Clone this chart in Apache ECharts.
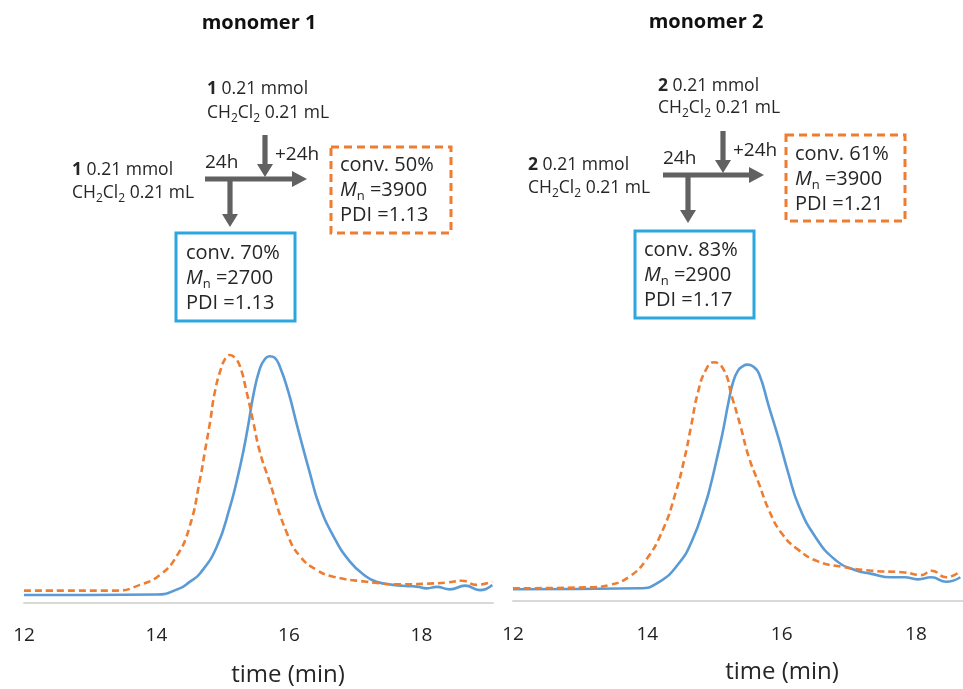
<!DOCTYPE html>
<html>
<head>
<meta charset="utf-8">
<script src="https://cdn.jsdelivr.net/npm/echarts@6/dist/echarts.min.js"></script>
<style>
html,body{margin:0;padding:0;background:#fff;}
#chart{width:963px;height:689px;}
</style>
</head>
<body>
<div id="chart"></div>
<script>
// ---------- data ----------
// monomer 1 panel
const m1BlueTime = [12.0, 13.0, 14.0, 14.35, 14.5, 14.66, 14.91, 15.11, 15.21, 15.31, 15.39, 15.46, 15.56, 15.64, 15.71, 15.78, 15.86, 15.99, 16.12, 16.24, 16.32, 16.45, 16.67, 16.92, 17.17, 17.32, 17.57, 17.8, 17.93, 18.08, 18.23, 18.43, 18.66, 18.88, 19.07];
const m1BlueValue = [0.032, 0.032, 0.034, 0.059, 0.085, 0.12, 0.227, 0.388, 0.49, 0.61, 0.725, 0.835, 0.945, 0.985, 0.995, 0.99, 0.955, 0.852, 0.718, 0.597, 0.52, 0.4, 0.27, 0.167, 0.106, 0.086, 0.073, 0.068, 0.066, 0.059, 0.065, 0.055, 0.07, 0.052, 0.073];
const m1OrangeTime = [12.0, 13.4, 13.75, 14.05, 14.3, 14.5, 14.66, 14.73, 14.81, 14.88, 14.98, 15.05, 15.11, 15.18, 15.26, 15.36, 15.46, 15.56, 15.69, 15.97, 16.17, 16.42, 16.67, 17.17, 17.68, 18.18, 18.4, 18.61, 18.83, 19.07];
const m1OrangeValue = [0.05, 0.05, 0.073, 0.113, 0.187, 0.308, 0.503, 0.61, 0.731, 0.85, 0.95, 0.99, 1.0, 0.99, 0.955, 0.852, 0.731, 0.61, 0.503, 0.281, 0.187, 0.133, 0.106, 0.086, 0.075, 0.079, 0.083, 0.09, 0.073, 0.086];
// monomer 2 panel
const m2BlueTime = [12.0, 13.88, 14.18, 14.47, 14.67, 14.87, 14.94, 15.02, 15.12, 15.21, 15.28, 15.35, 15.42, 15.49, 15.57, 15.66, 15.81, 15.96, 16.1, 16.25, 16.5, 16.8, 17.09, 17.34, 17.63, 17.83, 18.03, 18.23, 18.45, 18.66];
const m2BlueValue = [0.049, 0.053, 0.08, 0.157, 0.254, 0.41, 0.48, 0.575, 0.7, 0.83, 0.915, 0.96, 0.978, 0.985, 0.978, 0.949, 0.81, 0.672, 0.532, 0.4, 0.268, 0.171, 0.129, 0.113, 0.099, 0.099, 0.09, 0.099, 0.08, 0.099];
const m2OrangeTime = [12.0, 13.14, 13.44, 13.73, 13.98, 14.23, 14.42, 14.55, 14.65, 14.75, 14.87, 14.99, 15.14, 15.26, 15.39, 15.51, 15.66, 15.81, 16.0, 16.25, 16.55, 16.89, 17.34, 17.83, 18.08, 18.23, 18.45, 18.66];
const m2OrangeValue = [0.053, 0.057, 0.067, 0.101, 0.171, 0.296, 0.45, 0.59, 0.726, 0.865, 0.962, 0.995, 0.962, 0.851, 0.726, 0.6, 0.49, 0.379, 0.282, 0.213, 0.164, 0.143, 0.126, 0.119, 0.108, 0.126, 0.099, 0.124];

// tick labels and texts
const tickLabels = [12, 14, 16, 18];
const panelTitles = ['monomer 1', 'monomer 2'];
const monomerIds = ['1', '2'];
const amountText = '0.21 mmol';
const solventText = '0.21 mL';
const stepTexts = ['24h', '+24h'];
const firstConv = ['70%', '83%'];
const firstMn = ['2700', '2900'];
const firstPDI = ['1.13', '1.17'];
const secondConv = ['50%', '61%'];
const secondMn = ['3900', '3900'];
const secondPDI = ['1.13', '1.21'];
const xAxisTitle = 'time (min)';

// ---------- styling / layout ----------
const FONT = '"Open Sans", "Noto Sans", sans-serif';
const TXT = '#262626';
const BLUE = '#5B9BD5';
const ORANGE = '#ED7D31';
const BOXBLUE = '#2CA6DF';
const ARROW = '#616161';

function zip(t, v) { return t.map((x, i) => [x, v[i]]); }

function richFor(size) {
  return {
    b: {fontWeight: 'bold', fontSize: size, fontFamily: FONT, fill: TXT},
    i: {fontStyle: 'italic', fontSize: size, fontFamily: FONT, fill: TXT},
    s: {fontSize: Math.round(size * 0.66), fontFamily: FONT, fill: TXT, padding: [Math.round(size * 0.6), 0, 0, 0]}
  };
}
function txt(x, y, text, size, extra) {
  return {
    type: 'text', x: x, y: y, silent: true, z: 10,
    style: Object.assign({
      text: text, fill: TXT, fontSize: size, fontFamily: FONT,
      align: 'left', verticalAlign: 'middle', rich: richFor(size)
    }, extra || {})
  };
}
function hArrow(x1, x2, y) {
  const h = 15, t = 2.6, w = 8;
  return {type: 'polygon', silent: true, shape: {points: [[x1, y - t], [x2 - h, y - t], [x2 - h, y - w], [x2, y], [x2 - h, y + w], [x2 - h, y + t], [x1, y + t]]}, style: {fill: ARROW}};
}
function vArrow(x, y1, y2) {
  const h = 13, t = 2.6, w = 8;
  return {type: 'polygon', silent: true, shape: {points: [[x - t, y1], [x - t, y2 - h], [x - w, y2 - h], [x, y2], [x + w, y2 - h], [x + t, y2 - h], [x + t, y1]]}, style: {fill: ARROW}};
}
function box(x, y, w, h, color, dashed) {
  return {type: 'rect', silent: true, shape: {x: x, y: y, width: w, height: h},
    style: {fill: 'transparent', stroke: color, lineWidth: 3, lineDash: dashed ? [8, 5] : null}};
}

// per-panel layout positions
const layouts = [
  {title: [259, 23], top: [207, 89, 113], side: [72, 170, 193], h24: [205, 163], p24: [275, 155],
   hA: [205, 307, 179], vTop: [265, 135, 177], vBot: [230, 179, 227],
   oBox: [331, 147, 120, 86], oText: [340, 165, 190, 215],
   bBox: [176, 233, 119, 88], bText: [186, 253, 278, 303], axisTitle: [288, 675]},
  {title: [706, 22], top: [658, 86, 108], side: [528, 165, 188], h24: [663, 159], p24: [733, 151],
   hA: [663, 764, 175], vTop: [723, 131, 173], vBot: [688, 175, 223],
   oBox: [786, 135, 119, 86], oText: [795, 154, 179, 204],
   bBox: [635, 231, 119, 87], bText: [644, 250, 275, 300], axisTitle: [782, 672]}
];

const graphics = [];
layouts.forEach((L, k) => {
  graphics.push(txt(L.title[0], L.title[1], panelTitles[k], 20, {fontWeight: 'bold', align: 'center', fill: '#111'}));
  const amt = '{b|' + monomerIds[k] + '} ' + amountText;
  const sol = 'CH{s|2}Cl{s|2} ' + solventText;
  graphics.push(txt(L.top[0], L.top[1], amt, 17.5));
  graphics.push(txt(L.top[0], L.top[2], sol, 17.5));
  graphics.push(txt(L.side[0], L.side[1], amt, 17.5));
  graphics.push(txt(L.side[0], L.side[2], sol, 17.5));
  graphics.push(txt(L.h24[0], L.h24[1], stepTexts[0], 19));
  graphics.push(txt(L.p24[0], L.p24[1], stepTexts[1], 19));
  graphics.push(hArrow(L.hA[0], L.hA[1], L.hA[2]));
  graphics.push(vArrow(L.vTop[0], L.vTop[1], L.vTop[2]));
  graphics.push(vArrow(L.vBot[0], L.vBot[1], L.vBot[2]));
  graphics.push(box(L.oBox[0], L.oBox[1], L.oBox[2], L.oBox[3], ORANGE, true));
  graphics.push(txt(L.oText[0], L.oText[1], 'conv. ' + secondConv[k], 20));
  graphics.push(txt(L.oText[0], L.oText[2], '{i|M}{s|n} =' + secondMn[k], 20));
  graphics.push(txt(L.oText[0], L.oText[3], 'PDI =' + secondPDI[k], 20));
  graphics.push(box(L.bBox[0], L.bBox[1], L.bBox[2], L.bBox[3], BOXBLUE, false));
  graphics.push(txt(L.bText[0], L.bText[1], 'conv. ' + firstConv[k], 20));
  graphics.push(txt(L.bText[0], L.bText[2], '{i|M}{s|n} =' + firstMn[k], 20));
  graphics.push(txt(L.bText[0], L.bText[3], 'PDI =' + firstPDI[k], 20));
  graphics.push(txt(L.axisTitle[0], L.axisTitle[1], xAxisTitle, 24, {align: 'center'}));
});

function xAxisFor(gi, max, margin) {
  return {
    type: 'value', gridIndex: gi, min: 12, max: max, interval: 2,
    axisLine: {show: true, onZero: false, lineStyle: {color: '#D9D9D9', width: 2}},
    axisTick: {show: false}, splitLine: {show: false},
    axisLabel: {
      fontSize: 19, fontFamily: FONT, color: '#222', margin: margin,
      showMaxLabel: false,
      formatter: v => (tickLabels.indexOf(v) >= 0 ? String(v) : '')
    }
  };
}
function yAxisFor(gi) {
  return {type: 'value', gridIndex: gi, min: 0, max: 1, show: false, splitLine: {show: false}};
}
function lineSeries(gi, data, color, dashed) {
  return {
    type: 'line', xAxisIndex: gi, yAxisIndex: gi, data: data,
    smooth: 0.5,
    showSymbol: false, symbol: 'none', clip: false,
    lineStyle: {color: color, width: 2.6, type: dashed ? [7, 4] : 'solid'},
    z: dashed ? 3 : 2, animation: false
  };
}

const chart = echarts.init(document.getElementById('chart'), null, {renderer: 'canvas'});
chart.setOption({
  backgroundColor: '#ffffff',
  animation: false,
  grid: [
    {left: 24, top: 355, width: 469, height: 248},
    {left: 513, top: 361, width: 452, height: 240}
  ],
  xAxis: [xAxisFor(0, 19.08, 23), xAxisFor(1, 18.7, 24)],
  yAxis: [yAxisFor(0), yAxisFor(1)],
  series: [
    lineSeries(0, zip(m1BlueTime, m1BlueValue), BLUE, false),
    lineSeries(0, zip(m1OrangeTime, m1OrangeValue), ORANGE, true),
    lineSeries(1, zip(m2BlueTime, m2BlueValue), BLUE, false),
    lineSeries(1, zip(m2OrangeTime, m2OrangeValue), ORANGE, true)
  ],
  graphic: graphics
});
</script>
</body>
</html>
